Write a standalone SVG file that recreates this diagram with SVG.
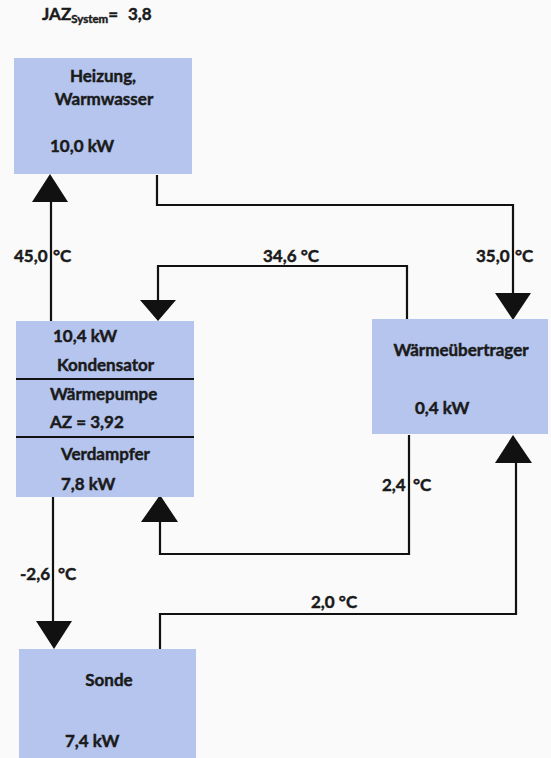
<svg xmlns="http://www.w3.org/2000/svg" width="551" height="758" viewBox="0 0 551 758">
<style>
.box{fill:#b5c5ee;}
.t{font-family:Lato,"Liberation Sans",sans-serif;font-weight:bold;font-size:17px;fill:#1a1a1a;stroke:#1a1a1a;stroke-width:0.45;}
.ln{fill:none;stroke:#111;stroke-width:2.2;}
.ah{fill:#111;}
.sep{stroke:#111;stroke-width:2.2;}
</style>
<rect width="551" height="758" fill="#fafafa"/>
<g id="title">
<text class="t" x="42" y="20">JAZ<tspan font-size="11.5" dy="3">System</tspan><tspan dy="-3">=</tspan><tspan x="128">3,8</tspan></text>
</g>
<g id="connectors">
<path class="ln" d="M51,321 V200"/>
<polygon class="ah" points="50,174 32,202 68,202"/>
<path class="ln" d="M157,175 V205 H513 V295"/>
<polygon class="ah" points="513,320 495,293 531,293"/>
<path class="ln" d="M407,319 V266 H158 V302"/>
<polygon class="ah" points="158,321 140,300 176,300"/>
<path class="ln" d="M409,435 V554 H160 V520"/>
<polygon class="ah" points="160,495 141,522 178,522"/>
<path class="ln" d="M53,497 V623"/>
<polygon class="ah" points="54,649 36,621 72,621"/>
<path class="ln" d="M160,649 V614 H516 V461"/>
<polygon class="ah" points="513,435 495,463 532,463"/>
<text class="t" x="14" y="262">45,0 <tspan x="53">°C</tspan></text>
<text class="t" x="263" y="262">34,6 °C</text>
<text class="t" x="476" y="262">35,0 <tspan x="515">°C</tspan></text>
<text class="t" x="382" y="491">2,4 <tspan x="413">°C</tspan></text>
<text class="t" x="20" y="580">-2,6 <tspan x="58">°C</tspan></text>
<text class="t" x="311" y="608">2,0 °C</text>
</g>
<g id="heizung">
<rect class="box" x="14" y="58" width="178" height="116"/>
<text class="t" x="103" y="82" text-anchor="middle">Heizung,</text>
<text class="t" x="104" y="105" text-anchor="middle">Warmwasser</text>
<text class="t" x="50" y="152">10,0 kW</text>
</g>
<g id="waermepumpe">
<rect class="box" x="16" y="321" width="178" height="176"/>
<line class="sep" x1="16" y1="379" x2="194" y2="379"/>
<line class="sep" x1="16" y1="437" x2="194" y2="437"/>
<text class="t" x="53" y="342">10,4 kW</text>
<text class="t" x="57" y="371">Kondensator</text>
<text class="t" x="50" y="400">Wärmepumpe</text>
<text class="t" x="50" y="428">AZ =  3,92</text>
<text class="t" x="61" y="460">Verdampfer</text>
<text class="t" x="61" y="490">7,8 kW</text>
</g>
<g id="waermeuebertrager">
<rect class="box" x="372" y="319" width="176" height="115"/>
<text class="t" x="461" y="356" text-anchor="middle">Wärmeübertrager</text>
<text class="t" x="415" y="414">0,4 kW</text>
</g>
<g id="sonde">
<rect class="box" x="19" y="649" width="177" height="109"/>
<text class="t" x="109" y="686" text-anchor="middle">Sonde</text>
<text class="t" x="65" y="747">7,4 kW</text>
</g>
</svg>
